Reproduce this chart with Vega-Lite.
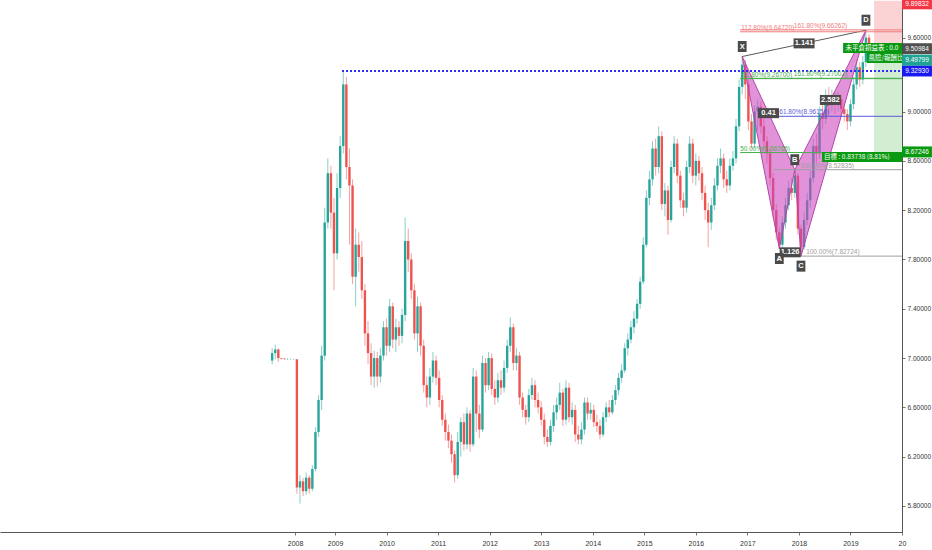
{
  "$schema": "https://vega.github.io/schema/vega-lite/v6.json",
  "width": 902,
  "height": 532,
  "autosize": {"type": "none"},
  "padding": {"top": 0, "left": 0, "right": 30, "bottom": 18},
  "background": "white",
  "config": {"view": {"stroke": null}, "font": "Liberation Sans"},
  "resolve": {"scale": {"color": "independent"}},
  "datasets": {
    "candles": [
      {"t":2007.78,"o":6.98,"h":7.08,"l":6.95,"c":7.04},
      {"t":2007.84,"o":7.04,"h":7.11,"l":6.99,"c":7.07},
      {"t":2007.90,"o":7.07,"h":7.08,"l":6.97,"c":7.00},
      {"t":2007.96,"o":7.00,"h":7.00,"l":6.99,"c":6.995},
      {"t":2008.02,"o":6.995,"h":7.00,"l":6.99,"c":6.99},
      {"t":2008.08,"o":6.99,"h":7.00,"l":6.985,"c":6.99},
      {"t":2008.14,"o":6.99,"h":6.995,"l":6.985,"c":6.99},
      {"t":2008.20,"o":6.99,"h":6.995,"l":6.985,"c":6.99},
      {"t":2008.26,"o":6.99,"h":6.99,"l":5.90,"c":5.95},
      {"t":2008.32,"o":5.95,"h":6.05,"l":5.82,"c":6.00},
      {"t":2008.38,"o":6.00,"h":6.03,"l":5.88,"c":5.92},
      {"t":2008.44,"o":5.92,"h":6.07,"l":5.89,"c":6.03},
      {"t":2008.50,"o":6.03,"h":6.05,"l":5.90,"c":5.94},
      {"t":2008.56,"o":5.94,"h":6.13,"l":5.92,"c":6.10},
      {"t":2008.62,"o":6.10,"h":6.44,"l":6.08,"c":6.40},
      {"t":2008.68,"o":6.40,"h":6.70,"l":6.36,"c":6.66},
      {"t":2008.74,"o":6.66,"h":7.10,"l":6.58,"c":7.02},
      {"t":2008.80,"o":7.02,"h":8.22,"l":6.98,"c":8.10},
      {"t":2008.86,"o":8.10,"h":8.62,"l":8.05,"c":8.50},
      {"t":2008.92,"o":8.50,"h":8.56,"l":8.05,"c":8.18},
      {"t":2008.98,"o":8.18,"h":8.30,"l":7.55,"c":7.85},
      {"t":2009.04,"o":7.85,"h":8.50,"l":7.80,"c":8.38},
      {"t":2009.10,"o":8.38,"h":8.80,"l":8.30,"c":8.72},
      {"t":2009.16,"o":8.72,"h":9.3293,"l":8.66,"c":9.22},
      {"t":2009.22,"o":9.22,"h":9.28,"l":8.45,"c":8.55},
      {"t":2009.28,"o":8.55,"h":8.70,"l":7.92,"c":8.40},
      {"t":2009.34,"o":8.40,"h":8.45,"l":7.60,"c":7.66},
      {"t":2009.40,"o":7.66,"h":8.05,"l":7.42,"c":7.92},
      {"t":2009.46,"o":7.92,"h":8.02,"l":7.70,"c":7.82},
      {"t":2009.52,"o":7.82,"h":7.95,"l":7.48,"c":7.55},
      {"t":2009.58,"o":7.55,"h":7.60,"l":7.10,"c":7.20},
      {"t":2009.64,"o":7.20,"h":7.30,"l":6.95,"c":7.04},
      {"t":2009.70,"o":7.04,"h":7.12,"l":6.78,"c":6.85},
      {"t":2009.76,"o":6.85,"h":7.06,"l":6.76,"c":7.00},
      {"t":2009.82,"o":7.00,"h":7.05,"l":6.77,"c":6.85},
      {"t":2009.88,"o":6.85,"h":7.08,"l":6.80,"c":7.02},
      {"t":2009.94,"o":7.02,"h":7.30,"l":6.98,"c":7.25},
      {"t":2010.00,"o":7.25,"h":7.32,"l":7.02,"c":7.10},
      {"t":2010.06,"o":7.10,"h":7.48,"l":7.05,"c":7.42},
      {"t":2010.12,"o":7.42,"h":7.45,"l":7.08,"c":7.15},
      {"t":2010.18,"o":7.15,"h":7.32,"l":7.05,"c":7.25},
      {"t":2010.24,"o":7.25,"h":7.30,"l":7.10,"c":7.18},
      {"t":2010.30,"o":7.18,"h":7.40,"l":7.12,"c":7.35},
      {"t":2010.36,"o":7.35,"h":8.14,"l":7.30,"c":7.95},
      {"t":2010.42,"o":7.95,"h":8.05,"l":7.70,"c":7.80},
      {"t":2010.48,"o":7.80,"h":7.85,"l":7.48,"c":7.55},
      {"t":2010.54,"o":7.55,"h":7.60,"l":7.15,"c":7.20},
      {"t":2010.60,"o":7.20,"h":7.50,"l":7.05,"c":7.42},
      {"t":2010.66,"o":7.42,"h":7.45,"l":7.02,"c":7.10},
      {"t":2010.72,"o":7.10,"h":7.15,"l":6.72,"c":6.78},
      {"t":2010.78,"o":6.78,"h":6.85,"l":6.60,"c":6.68},
      {"t":2010.84,"o":6.68,"h":6.92,"l":6.62,"c":6.85},
      {"t":2010.90,"o":6.85,"h":7.05,"l":6.80,"c":6.98},
      {"t":2010.96,"o":6.98,"h":7.02,"l":6.78,"c":6.84},
      {"t":2011.02,"o":6.84,"h":6.90,"l":6.60,"c":6.66},
      {"t":2011.08,"o":6.66,"h":6.70,"l":6.45,"c":6.50},
      {"t":2011.14,"o":6.50,"h":6.55,"l":6.33,"c":6.40},
      {"t":2011.20,"o":6.40,"h":6.46,"l":6.27,"c":6.33},
      {"t":2011.26,"o":6.33,"h":6.38,"l":6.15,"c":6.22},
      {"t":2011.32,"o":6.22,"h":6.25,"l":5.99,"c":6.05},
      {"t":2011.38,"o":6.05,"h":6.40,"l":6.02,"c":6.32},
      {"t":2011.44,"o":6.32,"h":6.52,"l":6.20,"c":6.48},
      {"t":2011.50,"o":6.48,"h":6.55,"l":6.25,"c":6.30},
      {"t":2011.56,"o":6.30,"h":6.60,"l":6.26,"c":6.55},
      {"t":2011.62,"o":6.55,"h":6.58,"l":6.24,"c":6.30},
      {"t":2011.68,"o":6.30,"h":6.92,"l":6.28,"c":6.85},
      {"t":2011.74,"o":6.85,"h":6.90,"l":6.40,"c":6.55},
      {"t":2011.80,"o":6.55,"h":6.62,"l":6.35,"c":6.42},
      {"t":2011.86,"o":6.42,"h":7.02,"l":6.40,"c":6.96},
      {"t":2011.92,"o":6.96,"h":7.00,"l":6.72,"c":6.78},
      {"t":2011.98,"o":6.78,"h":7.05,"l":6.74,"c":7.00},
      {"t":2012.04,"o":7.00,"h":7.04,"l":6.70,"c":6.75},
      {"t":2012.10,"o":6.75,"h":6.82,"l":6.62,"c":6.68},
      {"t":2012.16,"o":6.68,"h":6.88,"l":6.64,"c":6.82},
      {"t":2012.22,"o":6.82,"h":6.90,"l":6.70,"c":6.76},
      {"t":2012.28,"o":6.76,"h":6.98,"l":6.72,"c":6.92},
      {"t":2012.34,"o":6.92,"h":7.15,"l":6.88,"c":7.10},
      {"t":2012.40,"o":7.10,"h":7.33,"l":7.05,"c":7.25},
      {"t":2012.46,"o":7.25,"h":7.28,"l":6.90,"c":6.96},
      {"t":2012.52,"o":6.96,"h":7.08,"l":6.90,"c":7.02},
      {"t":2012.58,"o":7.02,"h":7.05,"l":6.62,"c":6.68},
      {"t":2012.64,"o":6.68,"h":6.72,"l":6.52,"c":6.58},
      {"t":2012.70,"o":6.58,"h":6.62,"l":6.46,"c":6.52},
      {"t":2012.76,"o":6.52,"h":6.75,"l":6.48,"c":6.70},
      {"t":2012.82,"o":6.70,"h":6.84,"l":6.66,"c":6.78},
      {"t":2012.88,"o":6.78,"h":6.82,"l":6.60,"c":6.66},
      {"t":2012.94,"o":6.66,"h":6.72,"l":6.55,"c":6.60},
      {"t":2013.00,"o":6.60,"h":6.65,"l":6.45,"c":6.50},
      {"t":2013.06,"o":6.50,"h":6.55,"l":6.30,"c":6.36},
      {"t":2013.12,"o":6.36,"h":6.42,"l":6.28,"c":6.32},
      {"t":2013.18,"o":6.32,"h":6.50,"l":6.29,"c":6.45},
      {"t":2013.24,"o":6.45,"h":6.62,"l":6.40,"c":6.56},
      {"t":2013.30,"o":6.56,"h":6.68,"l":6.50,"c":6.62},
      {"t":2013.36,"o":6.62,"h":6.80,"l":6.58,"c":6.72},
      {"t":2013.42,"o":6.72,"h":6.75,"l":6.45,"c":6.50},
      {"t":2013.48,"o":6.50,"h":6.82,"l":6.46,"c":6.76},
      {"t":2013.54,"o":6.76,"h":6.80,"l":6.48,"c":6.52},
      {"t":2013.60,"o":6.52,"h":6.64,"l":6.46,"c":6.58},
      {"t":2013.66,"o":6.58,"h":6.62,"l":6.32,"c":6.38},
      {"t":2013.72,"o":6.38,"h":6.45,"l":6.30,"c":6.34},
      {"t":2013.78,"o":6.34,"h":6.48,"l":6.30,"c":6.42},
      {"t":2013.84,"o":6.42,"h":6.68,"l":6.38,"c":6.64},
      {"t":2013.90,"o":6.64,"h":6.68,"l":6.50,"c":6.55},
      {"t":2013.96,"o":6.55,"h":6.64,"l":6.50,"c":6.58},
      {"t":2014.02,"o":6.58,"h":6.62,"l":6.44,"c":6.48},
      {"t":2014.08,"o":6.48,"h":6.54,"l":6.40,"c":6.45},
      {"t":2014.14,"o":6.45,"h":6.50,"l":6.34,"c":6.38},
      {"t":2014.20,"o":6.38,"h":6.56,"l":6.36,"c":6.52},
      {"t":2014.26,"o":6.52,"h":6.64,"l":6.48,"c":6.60},
      {"t":2014.32,"o":6.60,"h":6.66,"l":6.52,"c":6.56},
      {"t":2014.38,"o":6.56,"h":6.70,"l":6.54,"c":6.66},
      {"t":2014.44,"o":6.66,"h":6.78,"l":6.62,"c":6.74},
      {"t":2014.50,"o":6.74,"h":6.88,"l":6.70,"c":6.84},
      {"t":2014.56,"o":6.84,"h":6.95,"l":6.80,"c":6.90},
      {"t":2014.62,"o":6.90,"h":7.12,"l":6.88,"c":7.08},
      {"t":2014.68,"o":7.08,"h":7.20,"l":7.02,"c":7.15},
      {"t":2014.74,"o":7.15,"h":7.30,"l":7.12,"c":7.25},
      {"t":2014.80,"o":7.25,"h":7.38,"l":7.20,"c":7.32},
      {"t":2014.86,"o":7.32,"h":7.48,"l":7.28,"c":7.44},
      {"t":2014.92,"o":7.44,"h":7.66,"l":7.40,"c":7.62},
      {"t":2014.98,"o":7.62,"h":7.98,"l":7.60,"c":7.92},
      {"t":2015.04,"o":7.92,"h":8.36,"l":7.90,"c":8.30},
      {"t":2015.10,"o":8.30,"h":8.52,"l":8.24,"c":8.45},
      {"t":2015.16,"o":8.45,"h":8.76,"l":8.40,"c":8.70},
      {"t":2015.22,"o":8.70,"h":8.78,"l":8.48,"c":8.55},
      {"t":2015.28,"o":8.55,"h":8.88,"l":8.50,"c":8.80},
      {"t":2015.34,"o":8.80,"h":8.84,"l":8.20,"c":8.25},
      {"t":2015.40,"o":8.25,"h":8.42,"l":8.15,"c":8.36},
      {"t":2015.46,"o":8.36,"h":8.40,"l":8.00,"c":8.12},
      {"t":2015.52,"o":8.12,"h":8.60,"l":8.10,"c":8.55},
      {"t":2015.58,"o":8.55,"h":8.80,"l":8.50,"c":8.74},
      {"t":2015.64,"o":8.74,"h":8.78,"l":8.42,"c":8.48},
      {"t":2015.70,"o":8.48,"h":8.52,"l":8.22,"c":8.28},
      {"t":2015.76,"o":8.28,"h":8.34,"l":8.15,"c":8.22},
      {"t":2015.82,"o":8.22,"h":8.60,"l":8.18,"c":8.55},
      {"t":2015.88,"o":8.55,"h":8.80,"l":8.50,"c":8.74},
      {"t":2015.94,"o":8.74,"h":8.78,"l":8.42,"c":8.48},
      {"t":2016.00,"o":8.48,"h":8.66,"l":8.40,"c":8.60},
      {"t":2016.06,"o":8.60,"h":8.64,"l":8.44,"c":8.50},
      {"t":2016.12,"o":8.50,"h":8.55,"l":8.28,"c":8.34},
      {"t":2016.18,"o":8.34,"h":8.40,"l":8.12,"c":8.20},
      {"t":2016.24,"o":8.20,"h":8.26,"l":7.90,"c":8.10},
      {"t":2016.30,"o":8.10,"h":8.30,"l":8.04,"c":8.24},
      {"t":2016.36,"o":8.24,"h":8.46,"l":8.20,"c":8.40},
      {"t":2016.42,"o":8.40,"h":8.62,"l":8.36,"c":8.56},
      {"t":2016.48,"o":8.56,"h":8.70,"l":8.50,"c":8.62},
      {"t":2016.54,"o":8.62,"h":8.66,"l":8.38,"c":8.45},
      {"t":2016.60,"o":8.45,"h":8.52,"l":8.34,"c":8.40},
      {"t":2016.66,"o":8.40,"h":8.62,"l":8.36,"c":8.56},
      {"t":2016.72,"o":8.56,"h":8.68,"l":8.52,"c":8.62},
      {"t":2016.78,"o":8.62,"h":8.94,"l":8.58,"c":8.88},
      {"t":2016.84,"o":8.88,"h":9.26,"l":8.84,"c":9.20},
      {"t":2016.90,"o":9.20,"h":9.4465,"l":9.14,"c":9.38},
      {"t":2016.96,"o":9.38,"h":9.42,"l":9.10,"c":9.22},
      {"t":2017.02,"o":9.22,"h":9.26,"l":8.85,"c":8.92},
      {"t":2017.08,"o":8.92,"h":8.98,"l":8.70,"c":8.74},
      {"t":2017.14,"o":8.74,"h":9.05,"l":8.70,"c":9.00},
      {"t":2017.20,"o":9.00,"h":9.10,"l":8.85,"c":9.04},
      {"t":2017.26,"o":9.04,"h":9.08,"l":8.82,"c":8.88},
      {"t":2017.32,"o":8.88,"h":8.94,"l":8.70,"c":8.76},
      {"t":2017.38,"o":8.76,"h":8.80,"l":8.58,"c":8.66},
      {"t":2017.44,"o":8.66,"h":8.70,"l":8.40,"c":8.46},
      {"t":2017.50,"o":8.46,"h":8.50,"l":8.14,"c":8.20},
      {"t":2017.56,"o":8.20,"h":8.25,"l":7.96,"c":8.02},
      {"t":2017.62,"o":8.02,"h":8.06,"l":7.8888,"c":7.92},
      {"t":2017.68,"o":7.92,"h":8.15,"l":7.90,"c":8.10},
      {"t":2017.74,"o":8.10,"h":8.30,"l":8.05,"c":8.24},
      {"t":2017.80,"o":8.24,"h":8.44,"l":8.20,"c":8.38},
      {"t":2017.86,"o":8.38,"h":8.46,"l":8.28,"c":8.34},
      {"t":2017.92,"o":8.34,"h":8.528,"l":8.30,"c":8.48},
      {"t":2017.98,"o":8.48,"h":8.50,"l":8.00,"c":8.05},
      {"t":2018.04,"o":8.05,"h":8.08,"l":7.827,"c":7.90},
      {"t":2018.10,"o":7.90,"h":8.18,"l":7.88,"c":8.12},
      {"t":2018.16,"o":8.12,"h":8.34,"l":8.08,"c":8.28},
      {"t":2018.22,"o":8.28,"h":8.52,"l":8.22,"c":8.46},
      {"t":2018.28,"o":8.46,"h":8.78,"l":8.42,"c":8.72},
      {"t":2018.34,"o":8.72,"h":8.82,"l":8.58,"c":8.66},
      {"t":2018.40,"o":8.66,"h":9.04,"l":8.62,"c":8.98},
      {"t":2018.46,"o":8.98,"h":9.08,"l":8.86,"c":8.94},
      {"t":2018.52,"o":8.94,"h":9.18,"l":8.90,"c":9.10},
      {"t":2018.58,"o":9.10,"h":9.20,"l":8.98,"c":9.05},
      {"t":2018.64,"o":9.05,"h":9.18,"l":9.00,"c":9.12},
      {"t":2018.70,"o":9.12,"h":9.16,"l":8.98,"c":9.06},
      {"t":2018.76,"o":9.06,"h":9.16,"l":9.00,"c":9.10},
      {"t":2018.82,"o":9.10,"h":9.14,"l":8.96,"c":9.02},
      {"t":2018.88,"o":9.02,"h":9.08,"l":8.92,"c":8.98},
      {"t":2018.94,"o":8.98,"h":9.02,"l":8.85,"c":8.92},
      {"t":2019.00,"o":8.92,"h":9.10,"l":8.88,"c":9.06},
      {"t":2019.06,"o":9.06,"h":9.28,"l":9.02,"c":9.22},
      {"t":2019.12,"o":9.22,"h":9.42,"l":9.18,"c":9.36},
      {"t":2019.18,"o":9.36,"h":9.40,"l":9.20,"c":9.26},
      {"t":2019.24,"o":9.26,"h":9.45,"l":9.22,"c":9.40},
      {"t":2019.30,"o":9.40,"h":9.66,"l":9.36,"c":9.60},
      {"t":2019.36,"o":9.60,"h":9.63,"l":9.48,"c":9.50984}
    ],
    "pattern": [
      {"g":"XAB","ord":0,"t":2016.90,"p":9.4465},
      {"g":"XAB","ord":1,"t":2017.62,"p":7.8888},
      {"g":"XAB","ord":2,"t":2017.92,"p":8.528},
      {"g":"XAB","ord":3,"t":2016.90,"p":9.4465},
      {"g":"BCD","ord":0,"t":2017.92,"p":8.528},
      {"g":"BCD","ord":1,"t":2018.04,"p":7.827},
      {"g":"BCD","ord":2,"t":2019.30,"p":9.66},
      {"g":"BCD","ord":3,"t":2017.92,"p":8.528}
    ],
    "legs": [
      {"t":2016.90,"p":9.4465,"t2":2019.30,"p2":9.66},
      {"t":2017.62,"p":7.8888,"t2":2018.04,"p2":7.827}
    ],
    "ratios": [
      {"t":2018.10,"p":9.553,"label":"1.141"},
      {"t":2017.41,"p":8.987,"label":"0.41"},
      {"t":2018.61,"p":9.094,"label":"2.582"},
      {"t":2017.83,"p":7.858,"label":"1.126"}
    ],
    "points": [
      {"name":"X","t":2016.90,"p":9.4465,"kind":"high"},
      {"name":"A","t":2017.62,"p":7.8888,"kind":"low"},
      {"name":"B","t":2017.92,"p":8.528,"kind":"high"},
      {"name":"C","t":2018.04,"p":7.827,"kind":"low"},
      {"name":"D","t":2019.30,"p":9.66,"kind":"high"}
    ],
    "levels": [
      {"p":9.6472,"t":2016.86,"tl":2016.88,"label":"112.80%(9.64720)","set":"ext"},
      {"p":9.66262,"t":2016.86,"tl":2017.90,"label":"161.80%(9.66262)","set":"ext"},
      {"p":9.267,"t":2016.86,"tl":2016.90,"label":"61.80%(9.26700)","set":"retr"},
      {"p":9.27002,"t":2016.86,"tl":2017.90,"label":"161.80%(9.27002)","set":"retr"},
      {"p":8.66765,"t":2016.86,"tl":2016.86,"label":"50.00%(8.66765)","set":"retr"},
      {"p":8.96156,"t":2017.56,"tl":2017.62,"label":"61.80%(8.96156)","set":"proj"},
      {"p":8.52835,"t":2017.50,"tl":2018.03,"label":"100.00%(8.52835)","set":"base"},
      {"p":7.82724,"t":2017.60,"tl":2018.14,"label":"100.00%(7.82724)","set":"base"}
    ],
    "peakline": [
      {"t":2009.136,"t2":2020,"p":9.3293}
    ],
    "zones": [
      {"zone":"stop","t":2019.458,"t2":2020,"p":9.49799,"p2":9.89832},
      {"zone":"profit","t":2019.458,"t2":2020,"p":8.67246,"p2":9.49799},
      {"zone":"label","t":2018.857,"t2":2020,"p":9.475,"p2":9.556},
      {"zone":"label","t":2019.32,"t2":2020,"p":9.394,"p2":9.475},
      {"zone":"label","t":2018.449,"t2":2020,"p":8.59,"p2":8.672}
    ],
    "notes": [
      {"t":2018.905,"p":9.516,"label":"未平倉損益表 : 0.0"},
      {"t":2019.35,"p":9.435,"label":"風險/報酬比"},
      {"t":2018.488,"p":8.631,"label":"目標 : 0.83738 (8.81%)"}
    ],
    "tags": [
      {"t":2020,"p":9.89832,"label":"9.89832","set":"stop"},
      {"t":2020,"p":9.50984,"label":"9.50984","set":"last"},
      {"t":2020,"p":9.49799,"label":"9.49799","set":"entry"},
      {"t":2020,"p":9.3293,"label":"9.32930","set":"line"},
      {"t":2020,"p":8.67246,"label":"8.67246","set":"target"}
    ]
  },
  "encoding": {
    "x": {
      "field": "t",
      "type": "quantitative",
      "scale": {"domain": [2002.5, 2020], "nice": false, "zero": false, "padding": 0},
      "axis": {
        "title": null,
        "grid": false,
        "values": [2008.224, 2009, 2010, 2011, 2012, 2013, 2014, 2015, 2016, 2017, 2018, 2019, 2020],
        "labelExpr": "datum.value < 2009 ? '2008' : datum.value >= 2020 ? '20' : format(datum.value, 'd')",
        "labelFontSize": 7,
        "labelColor": "#333333",
        "labelPadding": 4,
        "labelFlush": false,
        "labelOverlap": false,
        "tickSize": 3,
        "tickColor": "#777777",
        "domainColor": "#555555",
        "zindex": 0
      }
    },
    "y": {
      "field": "p",
      "type": "quantitative",
      "scale": {"domain": [5.589, 9.905], "nice": false, "zero": false, "padding": 0},
      "axis": {
        "title": null,
        "orient": "right",
        "grid": false,
        "values": [5.8, 6.0, 6.2, 6.4, 6.6, 6.8, 7.0, 7.2, 7.4, 7.6, 7.8, 8.0, 8.2, 8.4, 8.6, 8.8, 9.0, 9.2, 9.6, 9.8],
        "format": ".5f",
        "labelFontSize": 6.5,
        "labelColor": "#333333",
        "labelPadding": 2,
        "labelOverlap": false,
        "labelFlush": false,
        "tickSize": 3,
        "tickColor": "#777777",
        "domainColor": "#555555",
        "zindex": 0
      }
    }
  },
  "layer": [
    {
      "data": {"name": "zones"},
      "transform": [{"filter": "datum.zone != 'label'"}],
      "mark": {"type": "rect"},
      "encoding": {
        "x2": {"field": "t2"},
        "y2": {"field": "p2"},
        "color": {"field": "zone", "type": "nominal", "legend": null, "scale": {"domain": ["stop", "profit"], "range": ["#fbd3d5", "#d3edd3"]}}
      }
    },
    {
      "data": {"name": "candles"},
      "mark": {"type": "rule", "strokeWidth": 1, "opacity": 0.55},
      "encoding": {
        "y": {"field": "l", "type": "quantitative", "axis": {"title": null}},
        "y2": {"field": "h"},
        "color": {"condition": {"test": "datum.c >= datum.o", "value": "#26a69a"}, "value": "#ef5350"}
      }
    },
    {
      "data": {"name": "candles"},
      "mark": {"type": "bar"},
      "encoding": {
        "y": {"field": "o", "type": "quantitative", "axis": {"title": null}},
        "y2": {"field": "c"},
        "size": {"value": 2.4},
        "color": {"condition": {"test": "datum.c >= datum.o", "value": "#26a69a"}, "value": "#ef5350"}
      }
    },
    {
      "data": {"name": "pattern"},
      "mark": {"type": "line", "fill": "#cc44bb", "fillOpacity": 0.58, "stroke": "#b347a8", "strokeWidth": 1},
      "encoding": {
        "detail": {"field": "g"},
        "order": {"field": "ord", "type": "quantitative"}
      }
    },
    {
      "data": {"name": "legs"},
      "mark": {"type": "rule", "color": "#5a5a5a", "strokeWidth": 1},
      "encoding": {"x2": {"field": "t2"}, "y2": {"field": "p2"}}
    },
    {
      "data": {"name": "levels"},
      "mark": {"type": "rule", "strokeWidth": 1},
      "encoding": {
        "x2": {"datum": 2020},
        "color": {"field": "set", "type": "nominal", "legend": null, "scale": {"domain": ["ext", "retr", "proj", "base"], "range": ["#f07c7c", "#4caf50", "#5a5ad8", "#a0a0a0"]}}
      }
    },
    {
      "data": {"name": "peakline"},
      "mark": {"type": "rule", "color": "#2b2bf2", "strokeWidth": 2, "strokeDash": [2, 2]},
      "encoding": {"x2": {"field": "t2"}}
    },
    {
      "data": {"name": "levels"},
      "mark": {"type": "text", "align": "left", "baseline": "bottom", "dy": -1, "fontSize": 6.5},
      "encoding": {
        "x": {"field": "tl", "type": "quantitative", "axis": {"title": null}},
        "text": {"field": "label"},
        "color": {"field": "set", "type": "nominal", "legend": null, "scale": {"domain": ["ext", "retr", "proj", "base"], "range": ["#f07c7c", "#4caf50", "#5a5ad8", "#a0a0a0"]}}
      }
    },
    {
      "data": {"name": "ratios"},
      "mark": {"type": "point", "shape": "M-1.05,-0.5H1.05V0.5H-1.05Z", "filled": true, "size": 400, "color": "#4a4a4a", "opacity": 1}
    },
    {
      "data": {"name": "ratios"},
      "mark": {"type": "text", "color": "white", "fontSize": 7.5, "fontWeight": "bold", "baseline": "middle"},
      "encoding": {"text": {"field": "label"}}
    },
    {
      "data": {"name": "points"},
      "transform": [{"filter": "datum.kind == 'high'"}],
      "layer": [
        {"mark": {"type": "point", "shape": "M-0.4,-0.5H0.4V0.5H-0.4Z", "filled": true, "size": 484, "color": "#4a4a4a", "opacity": 1, "yOffset": -10}},
        {"mark": {"type": "text", "color": "white", "fontSize": 7.5, "fontWeight": "bold", "baseline": "middle", "yOffset": -10}, "encoding": {"text": {"field": "name"}}}
      ]
    },
    {
      "data": {"name": "points"},
      "transform": [{"filter": "datum.kind == 'low'"}],
      "layer": [
        {"mark": {"type": "point", "shape": "M-0.4,-0.5H0.4V0.5H-0.4Z", "filled": true, "size": 484, "color": "#4a4a4a", "opacity": 1, "yOffset": 10}},
        {"mark": {"type": "text", "color": "white", "fontSize": 7.5, "fontWeight": "bold", "baseline": "middle", "yOffset": 10}, "encoding": {"text": {"field": "name"}}}
      ]
    },
    {
      "data": {"name": "zones"},
      "transform": [{"filter": "datum.zone == 'label'"}],
      "mark": {"type": "rect", "color": "#0a9a12"},
      "encoding": {"x2": {"field": "t2"}, "y2": {"field": "p2"}}
    },
    {
      "data": {"name": "notes"},
      "mark": {"type": "text", "clip": true, "align": "left", "baseline": "middle", "color": "white", "font": "Noto Sans CJK TC", "fontSize": 6.5},
      "encoding": {"text": {"field": "label"}}
    },
    {
      "data": {"name": "tags"},
      "transform": [{"filter": "datum.set != 'entry' && datum.set != 'stop'"}],
      "layer": [
        {
          "mark": {"type": "point", "shape": "M-1.36,-0.5H1.36V0.5H-1.36Z", "filled": true, "size": 484, "opacity": 1, "xOffset": 15},
          "encoding": {"color": {"field": "set", "type": "nominal", "legend": null, "scale": {"domain": ["stop", "last", "entry", "line", "target"], "range": ["#f23645", "#505050", "#1fa394", "#1a1af0", "#0a9a12"]}}}
        },
        {"mark": {"type": "text", "color": "white", "fontSize": 6.5, "baseline": "middle", "xOffset": 15}, "encoding": {"text": {"field": "label"}}}
      ]
    },
    {
      "data": {"name": "tags"},
      "transform": [{"filter": "datum.set == 'stop'"}],
      "layer": [
        {"mark": {"type": "point", "shape": "M-1.36,-0.5H1.36V0.5H-1.36Z", "filled": true, "size": 484, "opacity": 1, "color": "#f23645", "xOffset": 15, "yOffset": 3}},
        {"mark": {"type": "text", "color": "white", "fontSize": 6.5, "baseline": "middle", "xOffset": 15, "yOffset": 3}, "encoding": {"text": {"field": "label"}}}
      ]
    },
    {
      "data": {"name": "tags"},
      "transform": [{"filter": "datum.set == 'entry'"}],
      "layer": [
        {"mark": {"type": "point", "shape": "M-1.36,-0.5H1.36V0.5H-1.36Z", "filled": true, "size": 484, "opacity": 1, "color": "#1fa394", "xOffset": 15, "yOffset": 10}},
        {"mark": {"type": "text", "color": "white", "fontSize": 6.5, "baseline": "middle", "xOffset": 15, "yOffset": 10}, "encoding": {"text": {"field": "label"}}}
      ]
    }
  ]
}
